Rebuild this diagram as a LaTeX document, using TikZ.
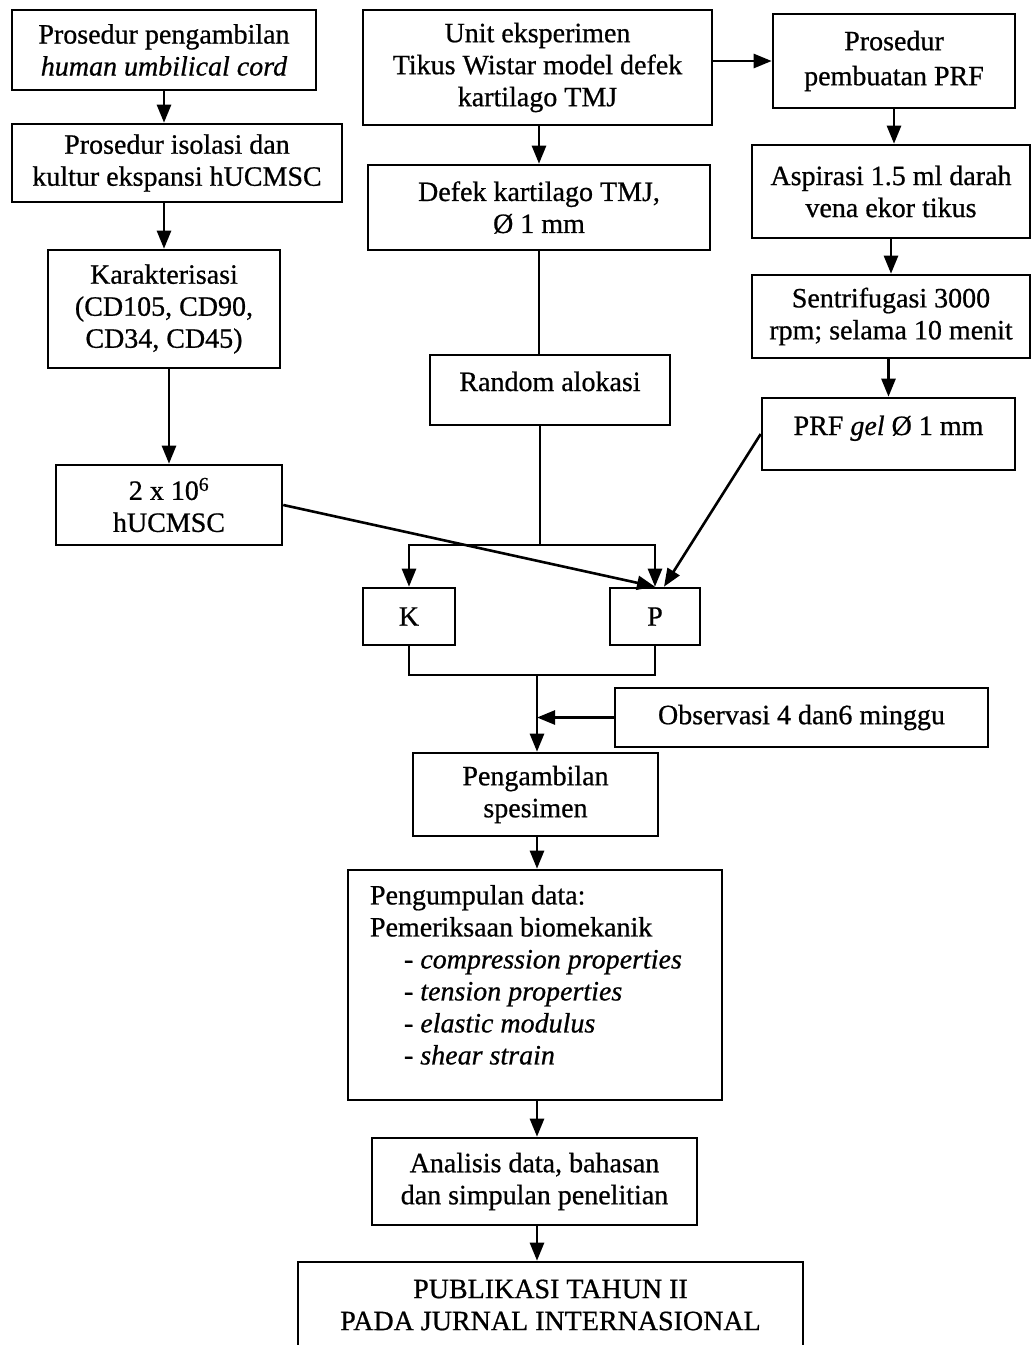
\documentclass[tikz,border=0pt]{standalone}
\usepackage{fontspec}
\setmainfont{Liberation Serif}[FakeBold=0.7]
\usetikzlibrary{arrows.meta}
\begin{document}
\begin{tikzpicture}[x=1pt,y=-1pt,
  font=\fontsize{28}{32}\selectfont,
  box/.style={draw, line width=2.6pt, inner sep=0pt, align=center},
  raised/.style={text height=18pt, text depth=16pt},
  ln/.style={line width=2.6pt},
  arr/.style={line width=2.6pt, -{Triangle[length=18pt,width=14pt]}}]
\useasboundingbox (0,0) rectangle (1033,1345);

% left column: cell preparation
\node[box, minimum width=304, minimum height=80] (A) at (164,50)
  {Prosedur pengambilan\\ \textit{human umbilical cord}};
\node[box, minimum width=330, minimum height=78] (B) at (177,163)
  {Prosedur isolasi dan\\ kultur ekspansi hUCMSC};
\node[box, minimum width=232, minimum height=118] (C) at (164,309)
  {Karakterisasi\\ (CD105, CD90,\\ CD34, CD45)};
\node[box, minimum width=226, minimum height=80] (D) at (169,505)
  {2 x 10\textsuperscript{6}\\ hUCMSC};

% middle column: experimental units
\node[box, minimum width=349, minimum height=115] (E) at (537.5,67.5)
  {Unit eksperimen\\ Tikus Wistar model defek\\ kartilago TMJ};
\node[box, minimum width=342, minimum height=85] (F) at (539,207.5)
  {Defek kartilago TMJ,\\ Ø 1 mm};
\node[box, raised, minimum width=240, minimum height=70] (G) at (550,390)
  {Random alokasi};
\node[box, minimum width=92, minimum height=57] (K) at (409,616.5) {K};
\node[box, minimum width=90, minimum height=57] (P) at (655,616.5) {P};

% right column: PRF preparation
\node[box, minimum width=242, minimum height=94] (M) at (894,61)
  {Prosedur\\[3pt] pembuatan PRF};
\node[box, minimum width=278, minimum height=93] (N) at (891,191.5)
  {Aspirasi 1.5 ml darah\\ vena ekor tikus};
\node[box, minimum width=278, minimum height=83] (Q) at (891,316.5)
  {Sentrifugasi 3000\\ rpm; selama 10 menit};
\node[box, raised, minimum width=253, minimum height=72] (R) at (888.5,434)
  {PRF \textit{gel} Ø 1 mm};

% observation and evaluation
\node[box, minimum width=373, minimum height=59] (O) at (801.5,717.5)
  {Observasi 4 dan6 minggu};
\node[box, minimum width=245, minimum height=83] (H) at (535.5,794.5)
  {Pengambilan\\ spesimen};
\node[box, minimum width=374, minimum height=230] (I) at (535,985)
  {\parbox[c][200pt][t]{330pt}{\raggedright
    Pengumpulan data:\\
    Pemeriksaan biomekanik\\
    \hspace*{34pt}- \textit{compression properties}\\
    \hspace*{34pt}- \textit{tension properties}\\
    \hspace*{34pt}- \textit{elastic modulus}\\
    \hspace*{34pt}- \textit{shear strain}}};
\node[box, minimum width=325, minimum height=87] (J) at (534.5,1181.5)
  {Analisis data, bahasan\\ dan simpulan penelitian};
\node[box, minimum width=505, minimum height=86] (L) at (550.5,1305)
  {PUBLIKASI TAHUN II\\ PADA JURNAL INTERNASIONAL};

% connectors: left column
\draw[arr] (A.south) -- (A.south |- B.north);
\draw[arr] (C.north |- B.south) -- (C.north);
\draw[arr] (D.north |- C.south) -- (D.north);
\draw[arr] (D.east) -- (P.north);

% connectors: middle column
\draw[arr] (F.north |- E.south) -- (F.north);
\draw[ln] (F.south) -- (F.south |- G.north);
\coordinate (bus) at (540,545);
\draw[ln] (G.south -| bus) -- (bus);
\draw[arr] (bus) -| (K.north);
\draw[arr] (bus) -| (P.north);

% connectors: right column
\draw[arr] (E.east |- M.west) -- (M.west);
\draw[arr] (M.south) -- (M.south |- N.north);
\draw[arr] (N.south) -- (Q.north);
\draw[arr] (R.north |- Q.south) -- (R.north);
\draw[arr] (R.west) -- ([xshift=9pt]P.north);

% merge of the groups and the final sequence
\coordinate (mrg) at (537,675);
\draw[ln] (K.south) |- (mrg) -| (P.south);
\draw[arr] (mrg) -- (H.north -| mrg);
\draw[arr] (O.west) -- (O.west -| mrg);
\draw[arr] (H.south -| mrg) -- (I.north -| mrg);
\draw[arr] (I.south -| mrg) -- (J.north -| mrg);
\draw[arr] (J.south -| mrg) -- (L.north -| mrg);
\end{tikzpicture}
\end{document}
